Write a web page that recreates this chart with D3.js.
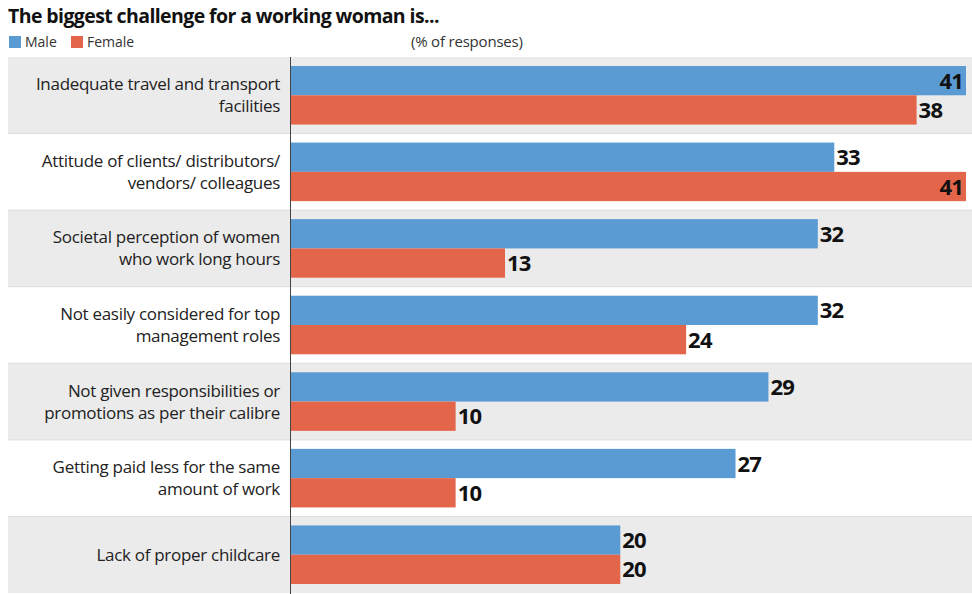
<!DOCTYPE html>
<meta charset="utf-8">
<style>
body { margin: 0; background: #fff; }
svg text { font-family: "Open Sans", sans-serif; }
.title { font-weight: 700; font-size: 19.5px; fill: #111; letter-spacing: -0.6px; }
.legend text { font-size: 14px; fill: #333; }
.unit { font-size: 15px; fill: #333; letter-spacing: -0.2px; }
.cat { font-size: 17px; fill: #222; letter-spacing: -0.3px; }
.val { font-weight: 700; font-size: 22px; fill: #111; letter-spacing: -0.8px; }
</style>
<svg width="972" height="594"></svg>
<script src="https://cdnjs.cloudflare.com/ajax/libs/d3/7.8.5/d3.min.js"></script>
<script>

var categories = [
  ["Inadequate travel and transport", "facilities"],
  ["Attitude of clients/ distributors/", "vendors/ colleagues"],
  ["Societal perception of women", "who work long hours"],
  ["Not easily considered for top", "management roles"],
  ["Not given responsibilities or", "promotions as per their calibre"],
  ["Getting paid less for the same", "amount of work"],
  ["Lack of proper childcare"]
];
var male = [41, 33, 32, 32, 29, 27, 20];
var female = [38, 41, 13, 24, 10, 10, 20];
var series = ["Male", "Female"];
var colors = ["#5b9bd4", "#e4664a"];

var svg = d3.select("svg"),
    width = +svg.attr("width"),
    height = +svg.attr("height");

var plotLeft = 291, plotRight = 966, plotTop = 57, plotBottom = 593;

var y = d3.scaleBand()
    .domain(d3.range(categories.length))
    .range([plotTop, plotBottom]);

var x = d3.scaleLinear()
    .domain([0, 41])
    .range([plotLeft, plotRight]);

var sub = d3.scaleBand()
    .domain(series)
    .range([9, y.bandwidth() - 9]);

// title + legend
svg.append("text").attr("class", "title")
    .attr("x", 8).attr("y", 23)
    .text("The biggest challenge for a working woman is...");

var legend = svg.append("g").attr("class", "legend");
var lx = [9, 71];
series.forEach(function(s, i) {
  legend.append("rect")
      .attr("x", lx[i]).attr("y", 36)
      .attr("width", 12).attr("height", 12)
      .attr("fill", colors[i]);
  legend.append("text")
      .attr("x", lx[i] + 16).attr("y", 47)
      .text(s);
});

svg.append("text").attr("class", "unit")
    .attr("x", 411).attr("y", 47)
    .text("(% of responses)");

// row bands
svg.append("g").selectAll("rect")
    .data(categories)
    .enter().append("rect")
      .attr("x", 8)
      .attr("y", function(d, i) { return y(i); })
      .attr("width", width - 8)
      .attr("height", y.bandwidth())
      .attr("fill", function(d, i) { return i % 2 == 0 ? "#ebebeb" : "#fff"; });

svg.append("g").selectAll("line")
    .data(d3.range(1, categories.length))
    .enter().append("line")
      .attr("x1", 8).attr("x2", width)
      .attr("y1", function(i) { return y(i); })
      .attr("y2", function(i) { return y(i); })
      .attr("stroke", "#dcdcdc");

// category labels
var cat = svg.append("g").selectAll("text")
    .data(categories)
    .enter().append("text")
      .attr("class", "cat")
      .attr("text-anchor", "end")
      .attr("x", 280)
      .attr("y", function(d, i) {
        return y(i) + y.bandwidth() / 2 - (d.length - 1) * 11 + 6;
      });
cat.selectAll("tspan")
    .data(function(d) { return d; })
    .enter().append("tspan")
      .attr("x", 280)
      .attr("dy", function(d, j) { return j ? 22 : 0; })
      .text(function(d) { return d; });

// bars
var rows = [];
categories.forEach(function(c, i) {
  rows.push({i: i, s: "Male", v: male[i], c: colors[0]});
  rows.push({i: i, s: "Female", v: female[i], c: colors[1]});
});

svg.append("g").selectAll("rect")
    .data(rows)
    .enter().append("rect")
      .attr("x", x(0))
      .attr("y", function(d) { return y(d.i) + sub(d.s); })
      .attr("width", function(d) { return x(d.v) - x(0); })
      .attr("height", sub.bandwidth())
      .attr("fill", function(d) { return d.c; });

svg.append("g").selectAll("text")
    .data(rows)
    .enter().append("text")
      .attr("class", "val")
      .attr("x", function(d) { return x(d.v) + (x(d.v) + 30 > width ? -3 : 2); })
      .attr("text-anchor", function(d) { return x(d.v) + 30 > width ? "end" : "start"; })
      .attr("y", function(d) { return y(d.i) + sub(d.s) + sub.bandwidth() / 2 + 8; })
      .text(function(d) { return d.v; });

// axis line
svg.append("line")
    .attr("x1", plotLeft - 0.5).attr("x2", plotLeft - 0.5)
    .attr("y1", plotTop).attr("y2", height)
    .attr("stroke", "#444");

</script>
